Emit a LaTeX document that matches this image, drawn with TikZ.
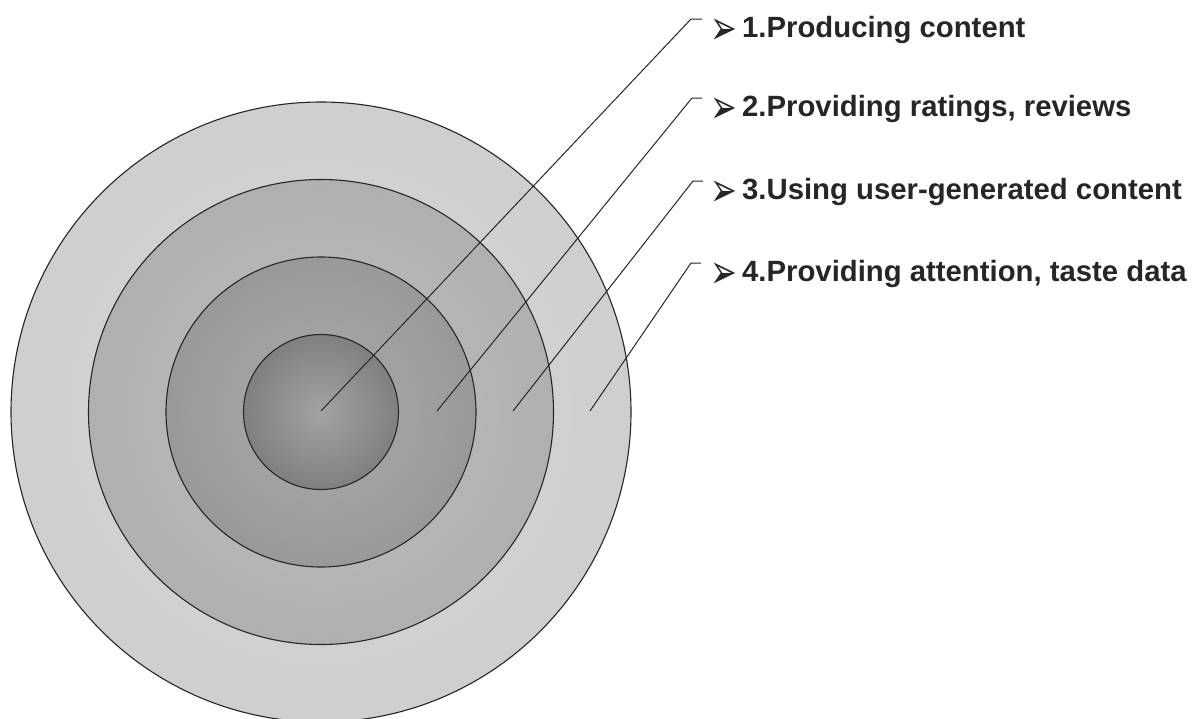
\documentclass[tikz,border=0pt]{standalone}
\usepackage{fontspec}
\setmainfont{Liberation Sans}
\newfontfamily\dvfont{DejaVu Sans}
\newcommand{\bulglyph}{\scalebox{1}[1.5]{➢}}
\begin{document}
\begin{tikzpicture}[x=1pt,y=-1pt,
  ring/.style={circle,draw=black!85,line width=1.1pt,inner sep=0pt,shading=radial},
  leader/.style={draw=black!85,line width=1pt},
  lbl/.style={anchor=base west,inner sep=0pt,font=\fontsize{29.3}{31}\selectfont\bfseries,text=black!85},
  bul/.style={anchor=base east,inner sep=0pt,font=\dvfont\fontsize{32}{32}\selectfont,text=black!85}]
\useasboundingbox (0,0) rectangle (1197,718);
\fill[white] (0,0) rectangle (1197,718);
\node[ring,minimum size=620pt,inner color=black!15,outer color=black!19] (c4) at (321,412) {};
\node[ring,minimum size=465pt,inner color=black!25,outer color=black!31] (c3) at (321,412) {};
\node[ring,minimum size=310pt,inner color=black!33,outer color=black!40] (c2) at (321,412) {};
\node[ring,minimum size=155pt,inner color=black!36,outer color=black!50] (c1) at (321,412) {};
% start points of leaders
\coordinate (s1) at (321,411);
\coordinate (s2) at (437,411);
\coordinate (s3) at (513,411);
\coordinate (s4) at (590,411);
% bends and tick ends
\coordinate (b1) at (691,19); \coordinate (e1) at (702,19);
\coordinate (b2) at (692,98); \coordinate (e2) at (702,98);
\coordinate (b3) at (693,181); \coordinate (e3) at (703,181);
\coordinate (b4) at (691,263); \coordinate (e4) at (701,263);
\path[leader] (s1) -- (b1) -- (e1);
\path[leader] (s2) -- (b2) -- (e2);
\path[leader] (s3) -- (b3) -- (e3);
\path[leader] (s4) -- (b4) -- (e4);
% labels
\node[bul] (a1) at (738,44) {\bulglyph};
\node[lbl] (t1) at (742,37) {1.Producing content};
\node[bul] (a2) at (738,123) {\bulglyph};
\node[lbl] (t2) at (742,116) {2.Providing ratings, reviews};
\node[bul] (a3) at (738,206) {\bulglyph};
\node[lbl] (t3) at (742,199) {3.Using user-generated content};
\node[bul] (a4) at (738,288) {\bulglyph};
\node[lbl] (t4) at (742,281) {4.Providing attention, taste data};
\end{tikzpicture}
\end{document}
